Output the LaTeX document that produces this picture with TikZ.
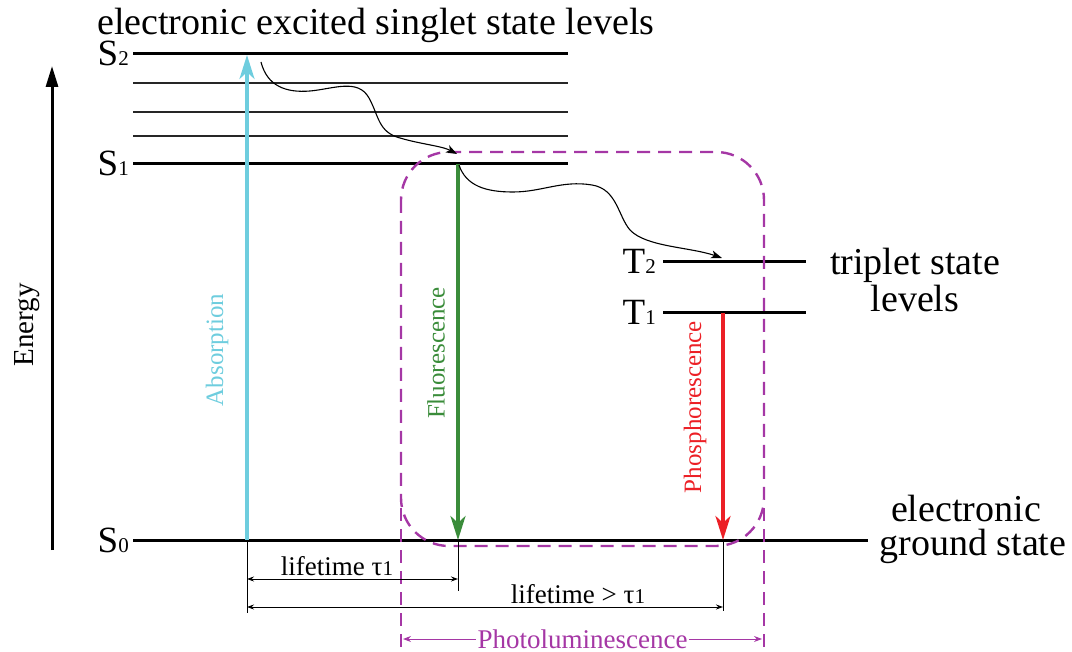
\documentclass[tikz,border=0pt]{standalone}
\usepackage{fontspec}
\setmainfont{Liberation Serif}
\usetikzlibrary{arrows.meta}
\definecolor{abscol}{RGB}{110,205,222}
\definecolor{flucol}{RGB}{58,140,58}
\definecolor{phocol}{RGB}{236,32,38}
\definecolor{plcol}{RGB}{165,55,165}
\newcommand\lowsub[1]{{\fontsize{21}{21}\selectfont #1}}
\begin{document}
\begin{tikzpicture}[x=1pt,y=-1pt,
  level/.style={line width=3pt},
  sublevel/.style={line width=1.2pt, draw=black!85},
  bigtext/.style={font=\fontsize{38}{38}\selectfont, inner sep=0pt},
  statelab/.style={font=\fontsize{37}{37}\selectfont, inner sep=0pt, anchor=base east},
  vlab/.style={font=\fontsize{25}{25}\selectfont, rotate=90, inner sep=0pt},
  trans/.style={line width=3.4pt, -{Stealth[length=24pt,width=15pt,inset=7pt]}},
  wavy/.style={line width=1.1pt, -{Stealth[length=11pt,width=8pt,inset=3pt]}},
  dim/.style={line width=0.9pt, {Stealth[length=7pt,width=5pt]}-{Stealth[length=7pt,width=5pt]}},
  tick/.style={line width=0.9pt},
  pldash/.style={draw=plcol, line width=2.4pt, dash pattern=on 13pt off 8pt},
  smalltext/.style={font=\fontsize{27}{27}\selectfont, inner sep=1pt}
]
\useasboundingbox (0,0) rectangle (1072,652);

% title
\node[bigtext, anchor=base west] (title) at (97,35) {electronic excited singlet state levels};

% energy axis
\coordinate (e0) at (52,550);
\coordinate (e1) at (52,66);
\draw[line width=3pt, -{Triangle[length=21pt,width=12pt]}] (e0) -- (e1);
\node[font=\fontsize{29}{29}\selectfont, rotate=90, inner sep=0pt] (energy) at (27,325) {Energy};

% singlet levels
\coordinate (s2a) at (133,54);  \coordinate (s2b) at (568,54);
\coordinate (v3a) at (133,83);  \coordinate (v3b) at (568,83);
\coordinate (v2a) at (133,112); \coordinate (v2b) at (568,112);
\coordinate (v1a) at (133,136); \coordinate (v1b) at (568,136);
\coordinate (s1a) at (133,164); \coordinate (s1b) at (568,164);
\coordinate (s0a) at (133,540); \coordinate (s0b) at (868,540);
\draw[level] (s2a) -- (s2b);
\draw[sublevel] (v3a) -- (v3b);
\draw[sublevel] (v2a) -- (v2b);
\draw[sublevel] (v1a) -- (v1b);
\draw[level] (s1a) -- (s1b);
\draw[level] (s0a) -- (s0b);
\node[statelab] (s2lab) at (129,66) {S\lowsub{2}};
\node[statelab] (s1lab) at (129,176) {S\lowsub{1}};
\node[statelab] (s0lab) at (129,552) {S\lowsub{0}};

% triplet levels
\coordinate (t2a) at (663,262); \coordinate (t2b) at (806,262);
\coordinate (t1a) at (663,313); \coordinate (t1b) at (806,313);
\draw[level] (t2a) -- (t2b);
\draw[level] (t1a) -- (t1b);
\node[statelab] (t2lab) at (656,274) {T\lowsub{2}};
\node[statelab] (t1lab) at (656,325) {T\lowsub{1}};
\node[bigtext, align=center] (trip) at (915,280) {triplet state\\[-1pt]levels};
\node[bigtext, anchor=base] (ground1) at (966,521) {electronic};
\node[bigtext, anchor=base] (ground2) at (973,555) {ground state};

% photoluminescence box
\coordinate (pbtl) at (401,152);
\coordinate (pbbr) at (764,546);
\draw[pldash, rounded corners=48pt] (pbtl) rectangle (pbbr);
\coordinate (pll0) at (401,508); \coordinate (pll1) at (401,650);
\coordinate (plr0) at (764,508); \coordinate (plr1) at (764,650);
\draw[pldash] (pll0) -- (pll1);
\draw[pldash] (plr0) -- (plr1);
\coordinate (pla) at (403,639); \coordinate (plb) at (762,639);
\draw[draw=plcol, line width=1pt, {Stealth[length=8pt,width=6pt]}-{Stealth[length=8pt,width=6pt]}] (pla) -- (plb)
  node[midway, fill=white, text=plcol, smalltext, inner sep=2pt] (pltext) {Photoluminescence};

% transitions
\coordinate (ab0) at (247,540); \coordinate (ab1) at (247,55);
\draw[trans, abscol] (ab0) -- (ab1);
\node[vlab, text=abscol] (ablab) at (217,350) {Absorption};
\coordinate (fl0) at (458,164); \coordinate (fl1) at (458,540);
\draw[trans, flucol] (fl0) -- (fl1);
\node[vlab, text=flucol] (fllab) at (436,353) {Fluorescence};
\coordinate (ph0) at (723,313); \coordinate (ph1) at (723,540);
\draw[trans, phocol] (ph0) -- (ph1);
\node[vlab, text=phocol] (phlab) at (695,407) {Phosphorescence};

% non-radiative wavy arrows
\coordinate (w1s) at (261,62);
\coordinate (w1e) at (457,154);
\draw[wavy] (w1s) .. controls (267,86) and (286,93) .. (310,91)
  .. controls (333,89) and (358,78) .. (369,98)
  .. controls (379,116) and (378,132) .. (400,138)
  .. controls (420,144) and (442,146) .. (w1e);
\coordinate (w2s) at (459,165);
\coordinate (w2e) at (722,258);
\draw[wavy] (w2s) .. controls (466,186) and (486,192) .. (513,192)
  .. controls (542,192) and (562,180) .. (592,185)
  .. controls (617,189) and (618,216) .. (630,230)
  .. controls (646,247) and (690,247) .. (w2e);

% lifetimes
\coordinate (lt0) at (247,613);
\coordinate (lt1) at (458,591);
\coordinate (lt2) at (723,611);
\draw[tick] (ab0) -- (lt0);
\draw[tick] (fl1) -- (lt1);
\draw[tick] (ph1) -- (lt2);
\coordinate (d1a) at (247,579); \coordinate (d1b) at (458,579);
\draw[dim] (d1a) -- (d1b);
\node[smalltext, anchor=base] (lt1lab) at (337,575) {lifetime τ\lowsub{1}};
\coordinate (d2a) at (247,607); \coordinate (d2b) at (723,607);
\draw[dim] (d2a) -- (d2b);
\node[smalltext, anchor=base] (lt2lab) at (578,603) {lifetime > τ\lowsub{1}};
\end{tikzpicture}
\end{document}
